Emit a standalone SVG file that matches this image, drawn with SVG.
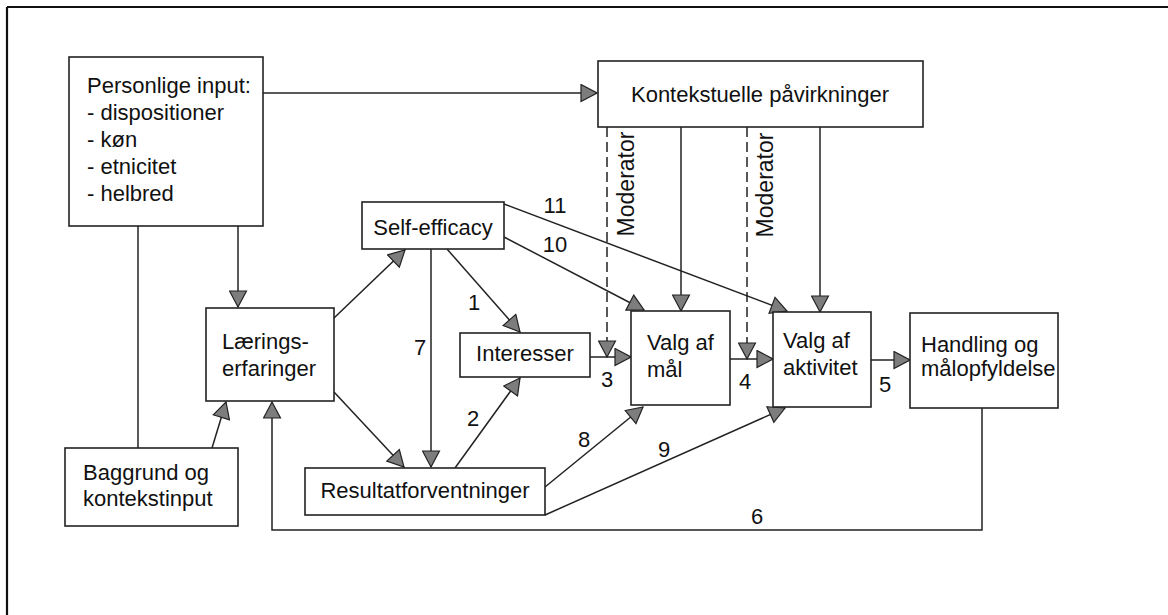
<svg xmlns="http://www.w3.org/2000/svg" width="1168" height="615" viewBox="0 0 1168 615">
<style>
.box{fill:#fff;stroke:#222;stroke-width:1.6}
.ln{fill:none;stroke:#222;stroke-width:1.5}
.dash{fill:none;stroke:#222;stroke-width:1.5;stroke-dasharray:10 5}
.t{font-family:"Liberation Sans",Arial,sans-serif;font-size:22px;fill:#111}
.m{text-anchor:middle}
</style>
<defs>
<marker id="ah" viewBox="0 0 18 19" markerWidth="18" markerHeight="19" refX="17" refY="9.5" orient="auto" markerUnits="userSpaceOnUse">
<path d="M1,1 L17,9.5 L1,18 Z" fill="#7d7d7d" stroke="#222" stroke-width="1.2"/>
</marker>
</defs>
<rect width="1168" height="615" fill="#fff"/>
<g id="frame">
<line x1="7" y1="7" x2="1168" y2="7" stroke="#111" stroke-width="2.2"/>
<line x1="7" y1="7" x2="7" y2="615" stroke="#111" stroke-width="2.2"/>
</g>
<g id="connectors">
<line class="ln" x1="263" y1="93" x2="597" y2="93" marker-end="url(#ah)"/>
<line class="ln" x1="138" y1="226" x2="138" y2="448"/>
<line class="ln" x1="238" y1="226" x2="238" y2="307" marker-end="url(#ah)"/>
<line class="ln" x1="212" y1="448" x2="226" y2="402" marker-end="url(#ah)"/>
<line class="ln" x1="334" y1="318" x2="405" y2="250" marker-end="url(#ah)"/>
<line class="ln" x1="334" y1="392" x2="404" y2="467" marker-end="url(#ah)"/>
<line class="ln" x1="431" y1="249" x2="431" y2="467" marker-end="url(#ah)"/>
<line class="ln" x1="447" y1="249" x2="520" y2="332" marker-end="url(#ah)"/>
<line class="ln" x1="455" y1="468" x2="520" y2="378" marker-end="url(#ah)"/>
<line class="ln" x1="504" y1="237" x2="644" y2="310" marker-end="url(#ah)"/>
<line class="ln" x1="504" y1="204" x2="787" y2="311" marker-end="url(#ah)"/>
<line class="ln" x1="545" y1="487" x2="643" y2="407" marker-end="url(#ah)"/>
<line class="ln" x1="545" y1="515" x2="785" y2="408" marker-end="url(#ah)"/>
<line class="ln" x1="681" y1="127" x2="681" y2="311" marker-end="url(#ah)"/>
<line class="ln" x1="820" y1="127" x2="820" y2="312" marker-end="url(#ah)"/>
<line class="dash" x1="607" y1="127" x2="607" y2="357" marker-end="url(#ah)"/>
<line class="dash" x1="747" y1="127" x2="747" y2="359" marker-end="url(#ah)"/>
<line class="ln" x1="590" y1="357" x2="631" y2="357" marker-end="url(#ah)"/>
<line class="ln" x1="730" y1="359" x2="773" y2="359" marker-end="url(#ah)"/>
<line class="ln" x1="871" y1="360" x2="910" y2="360" marker-end="url(#ah)"/>
<polyline class="ln" points="982,408 982,530 272,530 272,402" marker-end="url(#ah)"/>
<text class="t m" x="555" y="213">11</text>
<text class="t m" x="555" y="252">10</text>
<text class="t m" x="474" y="310">1</text>
<text class="t m" x="420" y="355">7</text>
<text class="t m" x="473" y="426">2</text>
<text class="t m" x="584" y="447">8</text>
<text class="t m" x="664" y="457">9</text>
<text class="t m" x="607" y="387">3</text>
<text class="t m" x="745" y="389">4</text>
<text class="t m" x="885" y="392">5</text>
<text class="t m" x="757" y="524">6</text>
<text class="t m" style="font-size:23px" transform="translate(634,184) rotate(-90)">Moderator</text>
<text class="t m" style="font-size:23px" transform="translate(773,185) rotate(-90)">Moderator</text>
</g>
<g id="personlige">
<rect class="box" x="69" y="57" width="194" height="169"/>
<text class="t" x="87" y="93">Personlige input:</text>
<text class="t" x="87" y="120">- dispositioner</text>
<text class="t" x="87" y="147">- køn</text>
<text class="t" x="87" y="174">- etnicitet</text>
<text class="t" x="87" y="201">- helbred</text>
</g>
<g id="kontekstuelle">
<rect class="box" x="598" y="61" width="325" height="66"/>
<text class="t m" x="760" y="102">Kontekstuelle påvirkninger</text>
</g>
<g id="selfefficacy">
<rect class="box" x="362" y="202" width="142" height="47"/>
<text class="t m" x="433" y="235">Self-efficacy</text>
</g>
<g id="laerings">
<rect class="box" x="206" y="308" width="128" height="93"/>
<text class="t" x="222" y="349">Lærings-</text>
<text class="t" x="222" y="376">erfaringer</text>
</g>
<g id="interesser">
<rect class="box" x="460" y="333" width="130" height="44"/>
<text class="t m" x="525" y="361">Interesser</text>
</g>
<g id="valgmaal">
<rect class="box" x="631" y="311" width="99" height="94"/>
<text class="t" x="647" y="350">Valg af</text>
<text class="t" x="647" y="377">mål</text>
</g>
<g id="valgaktivitet">
<rect class="box" x="773" y="312" width="98" height="95"/>
<text class="t" x="783" y="348">Valg af</text>
<text class="t" x="783" y="375">aktivitet</text>
</g>
<g id="handling">
<rect class="box" x="910" y="313" width="148" height="95"/>
<text class="t" x="921" y="352">Handling og</text>
<text class="t" x="921" y="376">målopfyldelse</text>
</g>
<g id="resultat">
<rect class="box" x="305" y="468" width="240" height="47"/>
<text class="t m" x="425" y="498">Resultatforventninger</text>
</g>
<g id="baggrund">
<rect class="box" x="65" y="448" width="173" height="78"/>
<text class="t" x="83" y="480">Baggrund og</text>
<text class="t" x="83" y="506">kontekstinput</text>
</g>
</svg>
